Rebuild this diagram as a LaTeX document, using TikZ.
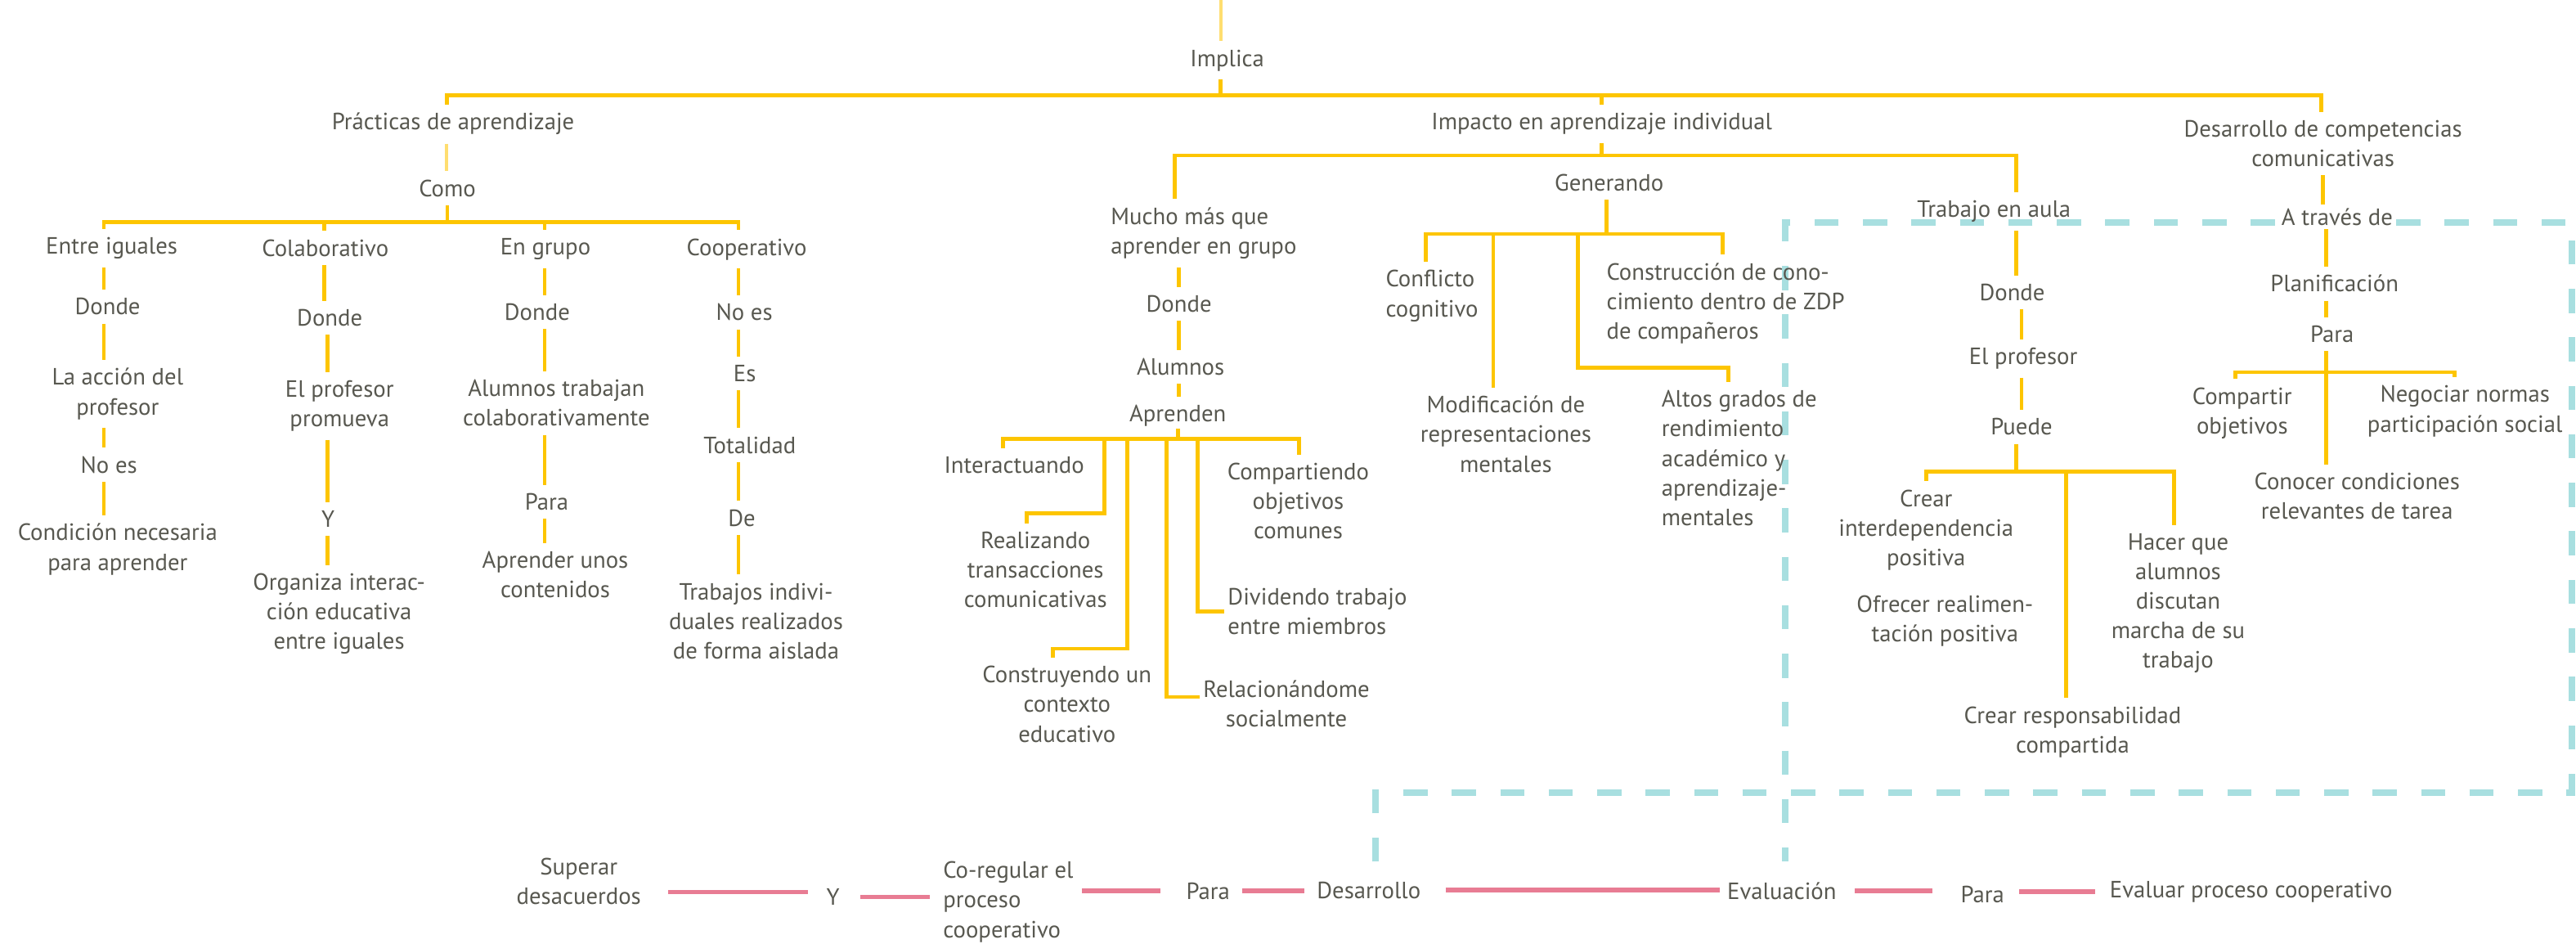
\documentclass[tikz,border=0pt]{standalone}
\usepackage{fontspec}
\setmainfont{PT Sans}
\definecolor{ink}{RGB}{88,88,80}
\definecolor{gold}{RGB}{253,197,0}
\definecolor{goldlight}{RGB}{255,222,112}
\definecolor{aqua}{RGB}{168,223,224}
\definecolor{rose}{RGB}{232,124,147}

\begin{document}
\begin{tikzpicture}[x=1pt,y=-1pt,
  lbl/.style={font=\fontsize{14.3}{18}\selectfont, text=ink, align=center, inner xsep=2pt, inner ysep=5pt},
  lbll/.style={lbl, align=left, anchor=west},
  yl/.style={draw=gold, line width=2.4pt},
  yll/.style={draw=goldlight, line width=2pt},
  pk/.style={draw=rose, line width=2.8pt},
  aq/.style={draw=aqua, line width=3.9pt, dash pattern=on 14.7pt off 14.8pt}]

\fill[white] (0,0) rectangle (1568,574.4);
\useasboundingbox (0,0) rectangle (1568,574.4);

% dashed frame around the classroom and communication blocks
\draw[aq] (837.3,524.3) -- (837.3,482.2) -- (1565.5,482.2) -- (1565.5,135.3)
          -- (1086.7,135.3) -- (1086.7,524.3);

% ---------- top level ----------
\node[lbl] (imp) at (747,36.8) {Implica};
\node[lbl] (prac) at (275.8,75.5) {Prácticas de aprendizaje};
\node[lbl] (impc) at (975,75.5) {Impacto en aprendizaje individual};
\node[lbl] (desc) at (1414,87.4) {Desarrollo de competencias\\comunicativas};

% ---------- practices ----------
\node[lbl] (como) at (272.3,114.5) {Como};
\node[lbl] (ei) at (68,151) {Entre iguales};
\node[lbl] (col) at (198,151) {Colaborativo};
\node[lbl] (eg) at (332,151.8) {En grupo};
\node[lbl] (coop) at (454.5,151.8) {Cooperativo};

\node[lbl] (d1) at (65.5,186.6) {Donde};
\node[lbl] (lap) at (71.6,239.7) {La acción del\\profesor};
\node[lbl] (ne1) at (66.3,282.9) {No es};
\node[lbl] (cn) at (71.6,334.3) {Condición necesaria\\para aprender};

\node[lbl] (d2) at (200.7,193.3) {Donde};
\node[lbl] (ep) at (206.7,247) {El profesor\\promueva};
\node[lbl] (y2) at (199.7,316) {Y};
\node[lbl] (org) at (206.4,373.6) {Organiza interac-\\ción educativa\\entre iguales};

\node[lbl] (d3) at (327,190) {Donde};
\node[lbl] (atc) at (338.7,245.2) {Alumnos trabajan\\colaborativamente};
\node[lbl] (p3) at (332.8,305.3) {Para};
\node[lbl] (au) at (338,349.7) {Aprender unos\\contenidos};

\node[lbl] (ne4) at (453,190) {No es};
\node[lbl] (es) at (453.3,227.3) {Es};
\node[lbl] (tot) at (456.4,270.8) {Totalidad};
\node[lbl] (de) at (451.5,315.2) {De};
\node[lbl] (ti) at (460.2,377.9) {Trabajos indivi-\\duales realizados\\de forma aislada};

% ---------- individual learning ----------
\node[lbll] (mucho) at (674,141.9) {Mucho más que\\aprender en grupo};
\node[lbl] (dm) at (717.6,185) {Donde};
\node[lbl] (alu) at (718.6,223.2) {Alumnos};
\node[lbl] (apr) at (716.9,253) {Aprenden};
\node[lbl] (inter) at (617.3,282.9) {Interactuando};
\node[lbl] (real) at (630.3,346.7) {Realizando\\transacciones\\comunicativas};
\node[lbl] (cons) at (649.5,428.5) {Construyendo un\\contexto\\educativo};
\node[lbl] (rel) at (783,428.1) {Relacionándome\\socialmente};
\node[lbll] (div) at (745.2,372.1) {Dividendo trabajo\\entre miembros};
\node[lbl] (comp) at (790.2,304.9) {Compartiendo\\objetivos\\comunes};

\node[lbl] (gen) at (979.5,111.2) {Generando};
\node[lbll] (conf) at (841.3,180.1) {Conflicto\\cognitivo};
\node[lbl] (mod) at (916.6,264.2) {Modificación de\\representaciones\\mentales};
\node[lbll] (cons2) at (975.7,184.6) {Construcción de cono-\\cimiento dentro de ZDP\\de compañeros};
\node[lbll] (altos) at (1009.2,278.8) {Altos grados de\\rendimiento\\académico y\\aprendizaje-\\mentales};

\node[lbl] (tra) at (1213.7,128.6) {Trabajo en aula};
\node[lbl] (dt) at (1224.8,177.9) {Donde};
\node[lbl] (ep2) at (1231.5,218.2) {El profesor};
\node[lbl] (pu) at (1230.5,259.7) {Puede};
\node[lbl] (crear) at (1172.4,322.5) {Crear\\interdependencia\\positiva};
\node[lbl] (ofr) at (1183.9,377.9) {Ofrecer realimen-\\tación positiva};
\node[lbl] (resp) at (1261.6,445.5) {Crear responsabilidad\\compartida};
\node[lbl] (hacer) at (1325.8,367.1) {Hacer que\\alumnos\\discutan\\marcha de su\\trabajo};

% ---------- communicative competences ----------
\node[lbl, fill=white, inner ysep=2pt] (atd) at (1422.6,132) {A través de};
\node[lbl] (plan) at (1421,172.6) {Planificación};
\node[lbl] (parr) at (1419.5,203.3) {Para};
\node[lbl] (comp2) at (1364.8,251.4) {Compartir\\objetivos};
\node[lbl] (neg) at (1500.4,250.2) {Negociar normas\\participación social};
\node[lbl] (con) at (1434.7,302) {Conocer condiciones\\relevantes de tarea};

% ---------- bottom sequence ----------
\node[lbl] (sup) at (352.3,536.5) {Superar\\desacuerdos};
\node[lbl] (yb) at (507.1,545.9) {Y};
\node[lbll] (cor) at (571.9,548.8) {Co-regular el\\proceso\\cooperativo};
\node[lbl] (pb1) at (735.3,542.2) {Para};
\node[lbl] (des) at (833.2,541.7) {Desarrollo};
\node[lbl] (eva) at (1084.6,542.2) {Evaluación};
\node[lbl] (pb2) at (1206.7,544.2) {Para};
\node[lbl] (evp) at (1370.2,542.6) {Evaluar proceso cooperativo};

% ---------- line positions ----------
\coordinate (top) at (743,0);
\coordinate (bT) at (743,58);
\coordinate (xP) at (272,0);
\coordinate (xI) at (975,0);
\coordinate (xD) at (1413,0);
\coordinate (bC) at (272.3,135.2);
\coordinate (xC1) at (63.2,0);
\coordinate (xC2a) at (197.4,0);
\coordinate (xC2b) at (199.4,0);
\coordinate (xC3) at (331.5,0);
\coordinate (xC4) at (449.5,0);
\coordinate (bI) at (975,94.6);
\coordinate (xMu) at (715.1,0);
\coordinate (xTr) at (1227.4,0);
\coordinate (xDm) at (717.6,0);
\coordinate (bA) at (716.9,267.1);
\coordinate (xIn) at (610.4,0);
\coordinate (xRa) at (672.2,0);
\coordinate (xRb) at (625,0);
\coordinate (xCa) at (686.1,0);
\coordinate (xCb) at (640.7,0);
\coordinate (xRe) at (709.9,0);
\coordinate (xDv) at (729.1,0);
\coordinate (xCo) at (790.9,0);
\coordinate (bG) at (977.7,142.4);
\coordinate (xCf) at (867.7,0);
\coordinate (xMd) at (908.9,0);
\coordinate (xAa) at (960.6,0);
\coordinate (xAb) at (1052.1,0);
\coordinate (xCn) at (1048.6,0);
\coordinate (xPf) at (1230.5,0);
\coordinate (bTr) at (1227.4,287);
\coordinate (xCr) at (1172.4,0);
\coordinate (xRs) at (1257.5,0);
\coordinate (xHa) at (1323.3,0);
\coordinate (xD2) at (1414.1,0);
\coordinate (bP) at (1415.9,226.5);
\coordinate (xCp) at (1360.7,0);
\coordinate (xNg) at (1494.1,0);

% ---------- yellow connectors ----------
\draw[yll] (top) -- (top |- imp.north);
\draw[yl] (imp.south -| bT) -- (bT);
\draw[yl] (prac.north -| xP) |- (bT) -| (desc.north -| xD);
\draw[yl] (bT -| xI) -- (impc.north -| xI);
\draw[yll] (prac.south -| xP) -- (como.north -| xP);

\draw[yl] (como.south -| bC) -- (bC);
\draw[yl] (ei.north -| xC1) |- (bC) -| (coop.north -| xC4);
\draw[yl] (bC -| xC2a) -- (col.north -| xC2a);
\draw[yl] (bC -| xC3) -- (eg.north -| xC3);

\draw[yl] (ei.south -| xC1) -- (d1.north -| xC1);
\draw[yl] (d1.south -| xC1) -- (lap.north -| xC1);
\draw[yl] (lap.south -| xC1) -- (ne1.north -| xC1);
\draw[yl] (ne1.south -| xC1) -- (cn.north -| xC1);

\draw[yl] (col.south -| xC2a) -- (d2.north -| xC2a);
\draw[yl] (d2.south -| xC2b) -- (ep.north -| xC2b);
\draw[yl] (ep.south -| xC2b) -- (y2.north -| xC2b);
\draw[yl] (y2.south -| xC2b) -- (org.north -| xC2b);

\draw[yl] (eg.south -| xC3) -- (d3.north -| xC3);
\draw[yl] (d3.south -| xC3) -- (atc.north -| xC3);
\draw[yl] (atc.south -| xC3) -- (p3.north -| xC3);
\draw[yl] (p3.south -| xC3) -- (au.north -| xC3);

\draw[yl] (coop.south -| xC4) -- (ne4.north -| xC4);
\draw[yl] (ne4.south -| xC4) -- (es.north -| xC4);
\draw[yl] (es.south -| xC4) -- (tot.north -| xC4);
\draw[yl] (tot.south -| xC4) -- (de.north -| xC4);
\draw[yl] (de.south -| xC4) -- (ti.north -| xC4);

\draw[yl] (impc.south -| bI) -- (bI);
\draw[yl] (mucho.north -| xMu) |- (bI) -| (tra.north -| xTr);
\draw[yl] (mucho.south -| xDm) -- (dm.north -| xDm);
\draw[yl] (dm.south -| xDm) -- (alu.north -| xDm);
\draw[yl] (alu.south -| xDm) -- (apr.north -| xDm);
\draw[yl] ([yshift=4pt]apr.south -| bA) -- (bA);
\draw[yl] (inter.north -| xIn) |- (bA) -| (comp.north -| xCo);
\draw[yl] (bA -| xRa) |- ([yshift=6pt]real.north -| xRb) -- (real.north -| xRb);
\draw[yl] (bA -| xCa) |- ([yshift=5.4pt]cons.north -| xCb) -- (cons.north -| xCb);
\draw[yl] (bA -| xRe) |- ([yshift=4pt]rel.west);
\draw[yl] (bA -| xDv) |- (div.west);

\draw[yl] (gen.south -| bG) -- (bG);
\draw[yl] (conf.north -| xCf) |- (bG) -| (cons2.north -| xCn);
\draw[yl] (bG -| xMd) -- (mod.north -| xMd);
\draw[yl] (bG -| xAa) |- ([yshift=8.5pt]altos.north -| xAb) -- (altos.north -| xAb);

\draw[yl] (tra.south -| xTr) -- (dt.north -| xTr);
\draw[yl] (dt.south -| xPf) -- (ep2.north -| xPf);
\draw[yl] (ep2.south -| xPf) -- (pu.north -| xPf);
\draw[yl] (pu.south -| bTr) -- (bTr);
\draw[yl] (crear.north -| xCr) |- (bTr) -| (hacer.north -| xHa);
\draw[yl] (bTr -| xRs) -- (resp.north -| xRs);

\draw[yl] (desc.south -| xD2) -- (atd.north -| xD2);
\draw[yl] (atd.south -| bP) -- (plan.north -| bP);
\draw[yl] (plan.south -| bP) -- (parr.north -| bP);
\draw[yl] (parr.south -| bP) -- (con.north -| bP);
\draw[yl] (comp2.north -| xCp) |- (bP) -| (neg.north -| xNg);

% ---------- pink sequence ----------
\draw[pk, shorten <=14.5pt, shorten >=9.3pt] ([yshift=3pt]sup.east |- yb.west) -- ([yshift=3pt]yb.west);
\draw[pk, shorten <=10.5pt, shorten >=5.8pt] (yb.east) -- (yb.east -| cor.west);
\draw[pk, shorten <=3pt, shorten >=13.7pt] (cor.east |- pb1.west) -- (pb1.west);
\draw[pk, shorten <=5.4pt, shorten >=5.4pt] (pb1.east) -- (pb1.east -| des.west);
\draw[pk, shorten <=13pt, shorten >=2.3pt] (des.east) -- (des.east -| eva.west);
\draw[pk, shorten <=9pt, shorten >=15pt] (eva.east) -- (eva.east -| pb2.west);
\draw[pk, shorten <=7pt, shorten >=6.6pt] (evp.west -| pb2.east) -- (evp.west);
\end{tikzpicture}
\end{document}
